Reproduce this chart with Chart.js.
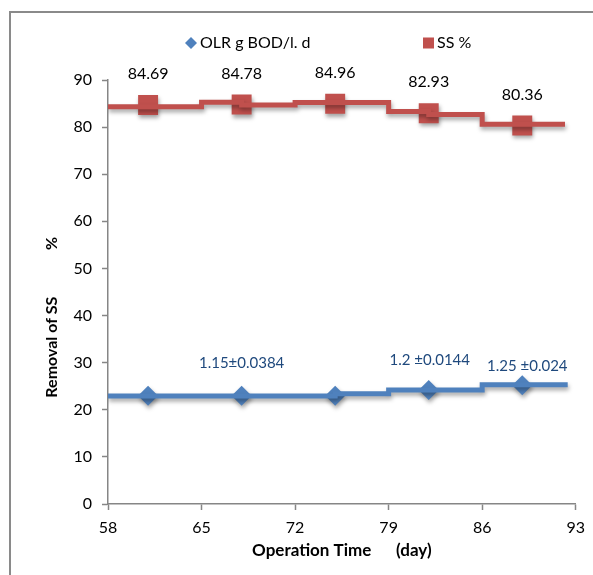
<!DOCTYPE html>
<html><head><meta charset="utf-8">
<script src="https://cdn.jsdelivr.net/npm/chart.js@4.4.1/dist/chart.umd.min.js"></script>
<style>html,body{margin:0;padding:0;background:#fff;} canvas{display:block;}</style>
</head><body>
<canvas id="c" width="593" height="575"></canvas>
<script>
// ---- data ----
const markerDays   = [61, 68, 75, 82, 89];
const ssValues     = [84.69, 84.78, 84.96, 82.93, 80.36];
const ssLabels     = ['84.69', '84.78', '84.96', '82.93', '80.36'];
const olrValues    = [23.0, 23.0, 23.0, 24.2, 25.2];
const olrLabels    = ['', '1.15±0.0384', '', '1.2 ±0.0144', '1.25 ±0.024'];
const ssStepDays   = [58, 65, 68, 72, 79, 82, 86, 92.2];
const ssStepValues = [84.3, 85.3, 84.7, 85.2, 83.3, 82.7, 80.6, 80.6];
const olrStepDays  = [58, 75, 79, 86, 92.4];
const olrStepValues= [22.9, 23.4, 24.2, 25.3, 25.3];
const xTicks = [58, 65, 72, 79, 86, 93];
const yTicks = [0, 10, 20, 30, 40, 50, 60, 70, 80, 90];
const seriesNames = ['OLR g BOD/l. d', 'SS %'];
const xTitle = 'Operation Time      (day)';
const yTitle = 'Removal of SS' + ' '.repeat(12) + '%' + ' '.repeat(13);

const BLUE = '#4F81BD', RED = '#C0504D', AXIS = '#868686';
const pts = (xs, ys) => xs.map((x, i) => ({x, y: ys[i]}));

Chart.defaults.font.family = 'Lato';

const framePlugin = {
  id: 'frame',
  beforeDraw(chart) {
    const c = chart.ctx;
    c.save();
    c.fillStyle = '#fff';
    c.fillRect(0, 0, chart.width, chart.height);
    c.strokeStyle = '#8a8a8a';
    c.lineWidth = 2;
    c.strokeRect(10, 12, 700, 700);
    c.restore();
  }
};

const shadowPlugin = {
  id: 'shadow',
  beforeDatasetDraw(chart) {
    const c = chart.ctx;
    c.save();
    c.shadowColor = 'rgba(0,0,0,0.35)';
    c.shadowBlur = 4;
    c.shadowOffsetX = 1;
    c.shadowOffsetY = 3;
  },
  afterDatasetDraw(chart) { chart.ctx.restore(); }
};

const labelPlugin = {
  id: 'labels',
  afterDatasetsDraw(chart) {
    const c = chart.ctx;
    c.save();
    c.textAlign = 'center';
    c.textBaseline = 'middle';
    const ssMeta = chart.getDatasetMeta(2);
    c.font = '16px Lato';
    c.fillStyle = '#000';
    ssMeta.data.forEach((p, i) => c.fillText(ssLabels[i], p.x, p.y - 31));
    const olrMeta = chart.getDatasetMeta(3);
    const adj = [[0, 0], [0, 32.5], [0, 0], [1, 30], [5, 19]];
    c.font = '15px Lato';
    c.fillStyle = '#1F497D';
    olrMeta.data.forEach((p, i) => {
      if (olrLabels[i]) c.fillText(olrLabels[i], p.x + adj[i][0], p.y - adj[i][1]);
    });
    c.restore();
  }
};

const legendPlugin = {
  id: 'customLegend',
  afterDraw(chart) {
    const c = chart.ctx;
    c.save();
    const y = 43;
    c.fillStyle = BLUE;
    c.beginPath();
    c.moveTo(191, y - 6); c.lineTo(197, y); c.lineTo(191, y + 6); c.lineTo(185, y); c.closePath();
    c.fill();
    c.fillStyle = RED;
    c.fillRect(423, y - 5.5, 11, 11);
    c.fillStyle = '#000';
    c.font = '16px Lato';
    c.textBaseline = 'middle';
    c.textAlign = 'left';
    c.fillText(seriesNames[0], 200, y);
    c.fillText(seriesNames[1], 437, y);
    c.restore();
  }
};

new Chart(document.getElementById('c'), {
  type: 'line',
  data: {
    datasets: [
      { label: seriesNames[0] + ' step', data: pts(olrStepDays, olrStepValues), stepped: 'before',
        borderColor: BLUE, borderWidth: 5, pointRadius: 0, fill: false, order: 1 },
      { label: seriesNames[1] + ' step', data: pts(ssStepDays, ssStepValues), stepped: 'before',
        borderColor: RED, borderWidth: 5, pointRadius: 0, fill: false, order: 1 },
      { label: seriesNames[1], data: pts(markerDays, ssValues), showLine: false,
        pointStyle: 'rect', pointRadius: 14.1, pointBackgroundColor: RED, pointBorderColor: RED,
        pointBorderWidth: 0, order: 2 },
      { label: seriesNames[0], data: pts(markerDays, olrValues), showLine: false,
        pointStyle: 'rectRot', pointRadius: 10, pointBackgroundColor: BLUE, pointBorderColor: BLUE,
        pointBorderWidth: 0, order: 2 }
    ]
  },
  options: {
    responsive: false,
    animation: false,
    devicePixelRatio: 1,
    layout: { padding: { top: 80, right: 14, bottom: 0, left: 0 } },
    plugins: { legend: { display: false }, tooltip: { enabled: false } },
    scales: {
      x: {
        type: 'linear', min: 58, max: 93,
        afterBuildTicks: s => { s.ticks = xTicks.map(v => ({value: v})); },
        afterFit: s => { s.height = 71; },
        ticks: { font: { size: 16 }, color: '#000', padding: 8 },
        grid: { drawOnChartArea: false, drawTicks: true, tickLength: 6, tickColor: AXIS, tickWidth: 1.5 },
        border: { display: true, color: AXIS, width: 1.5 },
        title: { display: true, text: xTitle, font: { size: 17, weight: 'bold' },
                 color: '#000', padding: { top: 0, bottom: 14 } }
      },
      y: {
        min: 0, max: 90,
        afterBuildTicks: s => { s.ticks = yTicks.map(v => ({value: v})); },
        afterFit: s => { s.width = 108; },
        ticks: { font: { size: 16 }, color: '#000', padding: 10 },
        grid: { drawOnChartArea: false, drawTicks: true, tickLength: 6, tickColor: AXIS, tickWidth: 1.5 },
        border: { display: true, color: AXIS, width: 1.5 },
        title: { display: true, text: yTitle, font: { size: 16, weight: 'bold' },
                 color: '#000', padding: { top: 42, bottom: 0 } }
      }
    }
  },
  plugins: [framePlugin, shadowPlugin, labelPlugin, legendPlugin]
});
</script>
</body></html>
